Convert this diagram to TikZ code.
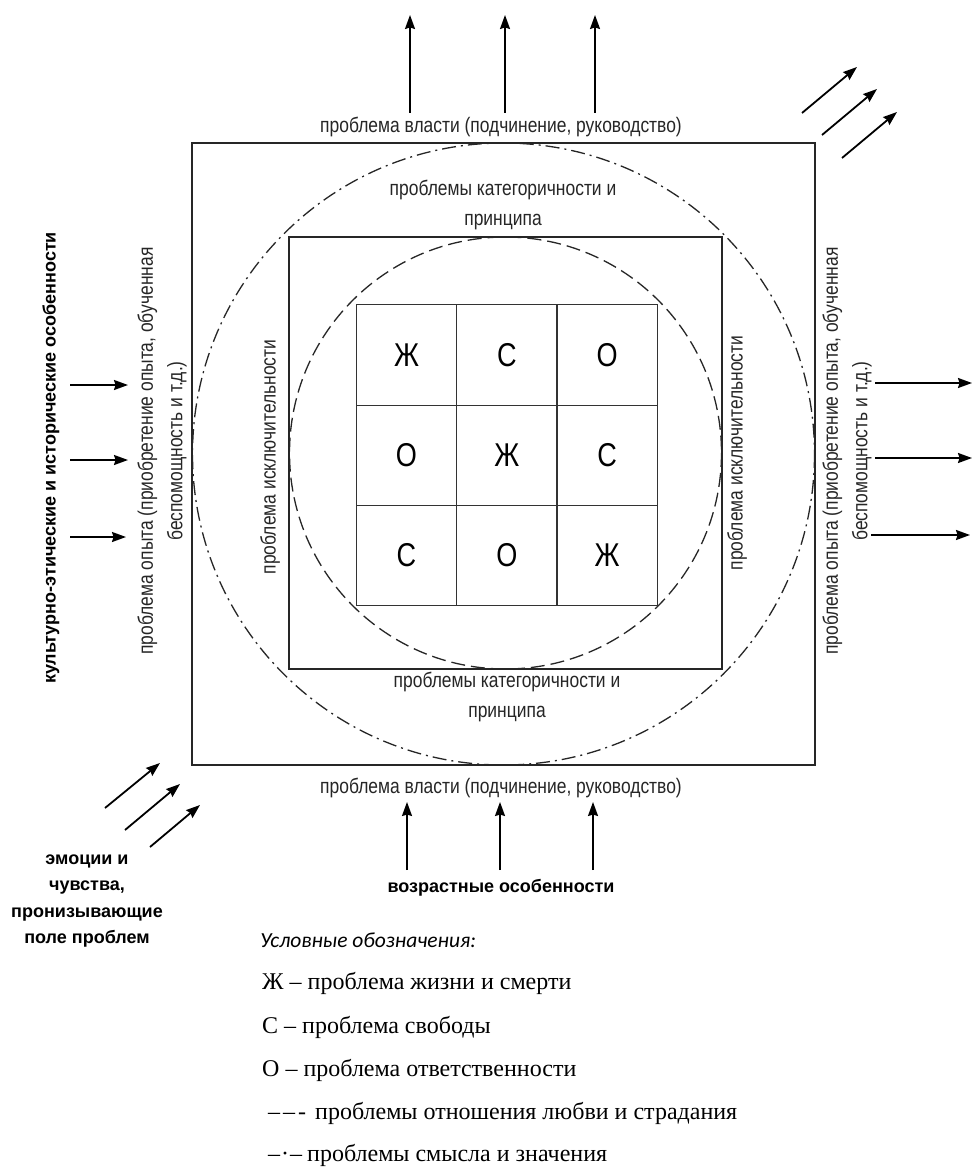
\documentclass[tikz,border=0pt]{standalone}
\usepackage{fontspec}
\setmainfont{Liberation Sans}
\newfontfamily\serifleg{Liberation Serif}
\newfontfamily\calib{Carlito}
\usetikzlibrary{arrows.meta}
\begin{document}
\begin{tikzpicture}[x=1pt,y=-1pt,
  box/.style={draw=black!85, line width=1.3pt, inner sep=0, outer sep=0},
  cellbox/.style={draw=black!80, line width=1.2pt, minimum width=100.3pt, minimum height=100.3pt, inner sep=0, outer sep=0},
  celltxt/.style={font=\fontsize{33}{33}\selectfont, inner sep=0, xscale=0.82},
  arr/.style={line width=1.8pt, -{Stealth[length=14pt,width=10pt,inset=1.5pt]}},
  lbl/.style={font=\fontsize{21}{29.5}\selectfont, text=black!85, align=center, inner sep=0},
  blbl/.style={font=\fontsize{18}{26.5}\selectfont\bfseries, align=center, inner sep=0},
  leg/.style={font=\fontsize{24}{24}\selectfont\serifleg, anchor=west, inner sep=0},
  dashedc/.style={draw=black!85, line width=1.3pt, dash pattern=on 14pt off 6pt},
  dashdotc/.style={draw=black!85, line width=1.3pt, dash pattern=on 14pt off 5pt on 2pt off 5pt},
]
\useasboundingbox (0,0) rectangle (972,1169);
\fill[white] (0,0) rectangle (972,1169);

% squares
\node[box, minimum width=623pt, minimum height=622pt] (outer) at (503.5,454) {};
\node[box, minimum width=433pt, minimum height=432pt] (inner) at (505.5,453) {};

% circles
\draw[dashedc] (505.5,453) circle[radius=216];
\draw[dashdotc] (503.5,454) circle[radius=311];

% grid
\node[cellbox] (c11) at (406.5,355) {};
\node[cellbox] (c12) at (506.8,355) {};
\node[cellbox] (c13) at (607.1,355) {};
\node[cellbox] (c21) at (406.5,455.3) {};
\node[cellbox] (c22) at (506.8,455.3) {};
\node[cellbox] (c23) at (607.1,455.3) {};
\node[cellbox] (c31) at (406.5,555.6) {};
\node[cellbox] (c32) at (506.8,555.6) {};
\node[cellbox] (c33) at (607.1,555.6) {};
\node[celltxt] (t11) at (c11) {Ж};
\node[celltxt] (t12) at (c12) {С};
\node[celltxt] (t13) at (c13) {О};
\node[celltxt] (t21) at (c21) {О};
\node[celltxt] (t22) at (c22) {Ж};
\node[celltxt] (t23) at (c23) {С};
\node[celltxt] (t31) at (c31) {С};
\node[celltxt] (t32) at (c32) {О};
\node[celltxt] (t33) at (c33) {Ж};

% labels
\node[lbl, xscale=0.83] (ptop) at (501,127) {проблема власти (подчинение, руководство)};
\node[lbl, xscale=0.83] (pbot) at (501,788) {проблема власти (подчинение, руководство)};
\node[lbl, xscale=0.83] (cattop) at (503,205) {проблемы категоричности и\\принципа};
\node[lbl, xscale=0.83] (catbot) at (507,697) {проблемы категоричности и\\принципа};
\node[lbl, rotate=90, xscale=0.83] (exL) at (270,457) {проблема исключительности};
\node[lbl, rotate=90, xscale=0.83] (exR) at (737,453) {проблема исключительности};
\node[lbl, rotate=90, xscale=0.83] (opL) at (162,451) {проблема опыта (приобретение опыта, обученная\\беспомощность и т.д.)};
\node[lbl, rotate=90, xscale=0.83] (opR) at (847,451) {проблема опыта (приобретение опыта, обученная\\беспомощность и т.д.)};
\node[blbl, rotate=90] (cult) at (51,458) {культурно-этические и исторические особенности};
\node[blbl] (emo) at (87,901) {эмоции и\\чувства,\\пронизывающие\\поле проблем};
\node[blbl] (age) at (501,888) {возрастные особенности};

% legend
\node[anchor=west, inner sep=0, font=\fontsize{21.5}{21.5}\selectfont\calib\itshape] (legt) at (260,940) {Условные обозначения:};
\node[leg] (leg1) at (262,983) {Ж – проблема жизни и смерти};
\node[leg] (leg2) at (262,1027) {С – проблема свободы};
\node[leg] (leg3) at (262,1070) {О – проблема ответственности};
\node[leg] (leg4) at (268,1113) {–\hspace{3pt}–\hspace{3pt}-\hspace{9pt}проблемы отношения любви и страдания};
\node[leg] (leg5) at (268,1155) {–\hspace{1pt}·\hspace{1pt}–\hspace{5pt}проблемы смысла и значения};

% arrow end points
\coordinate (ta1) at (410,113); \coordinate (tb1) at (410,15);
\coordinate (ta2) at (505,113); \coordinate (tb2) at (505,15);
\coordinate (ta3) at (595,113); \coordinate (tb3) at (595,15);
\coordinate (da1) at (802,113); \coordinate (db1) at (857,67);
\coordinate (da2) at (822,135); \coordinate (db2) at (877,89);
\coordinate (da3) at (842,158); \coordinate (db3) at (897,112);
\coordinate (la1) at (70,385); \coordinate (lb1) at (128,385);
\coordinate (la2) at (70,460); \coordinate (lb2) at (128,460);
\coordinate (la3) at (70,537); \coordinate (lb3) at (126,537);
\coordinate (ra1) at (875,383); \coordinate (rb1) at (972,383);
\coordinate (ra2) at (875,458); \coordinate (rb2) at (972,458);
\coordinate (ra3) at (871,535); \coordinate (rb3) at (970,535);
\coordinate (ea1) at (105,808); \coordinate (eb1) at (160,763);
\coordinate (ea2) at (125,830); \coordinate (eb2) at (180,784);
\coordinate (ea3) at (150,847); \coordinate (eb3) at (200,805);
\coordinate (ba1) at (407,870); \coordinate (bb1) at (407,802);
\coordinate (ba2) at (500,870); \coordinate (bb2) at (500,802);
\coordinate (ba3) at (593,870); \coordinate (bb3) at (593,802);

\foreach \i in {1,2,3}{
  \draw[arr] (ta\i) -- (tb\i);
  \draw[arr] (da\i) -- (db\i);
  \draw[arr] (la\i) -- (lb\i);
  \draw[arr] (ra\i) -- (rb\i);
  \draw[arr] (ea\i) -- (eb\i);
  \draw[arr] (ba\i) -- (bb\i);
}
\end{tikzpicture}
\end{document}
